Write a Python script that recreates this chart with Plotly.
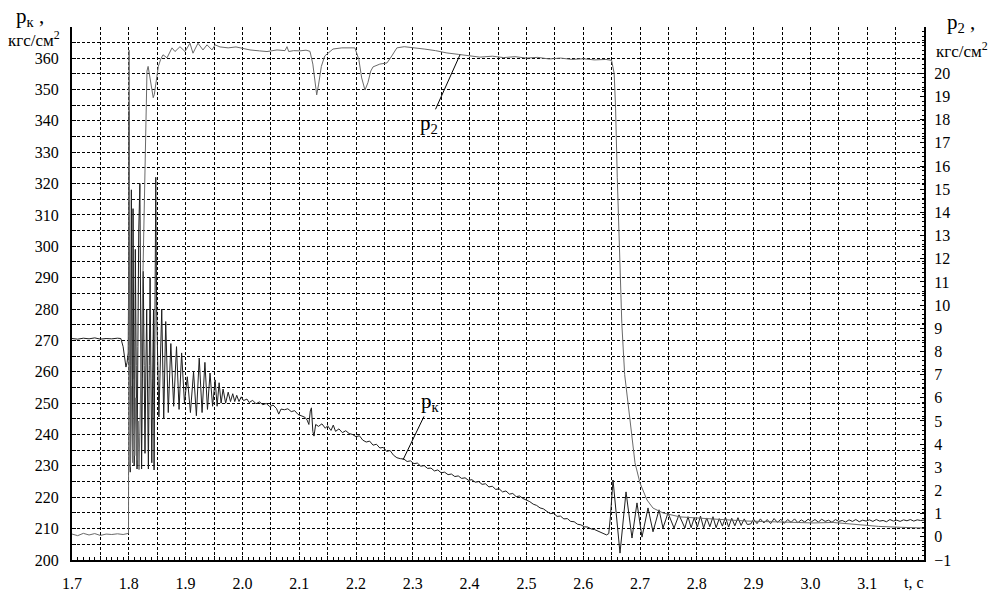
import numpy as np
import plotly.graph_objects as go

# ---------------- data ----------------
# p_k : chamber pressure, left axis (kgf/cm2)
t_pk = [1.700, 1.710, 1.720, 1.730, 1.740, 1.750, 1.760, 1.770, 1.780, 1.786, 1.790, 1.793, 1.795, 1.797, 1.799,
        1.8000, 1.8005, 1.8015, 1.8025, 1.8035, 1.8045, 1.8055, 1.8065, 1.8075, 1.8085, 1.8095, 1.8105, 1.8115,
        1.8130, 1.8145, 1.8160, 1.8175, 1.8195, 1.8210, 1.8225, 1.8240, 1.8255, 1.8270, 1.8285, 1.8300, 1.8315,
        1.8330, 1.8345, 1.8360, 1.8375, 1.8390, 1.8405, 1.8420, 1.8435, 1.8445, 1.8460, 1.8475, 1.8490, 1.8530,
        1.8580, 1.8615, 1.8650, 1.8695, 1.8740, 1.8790, 1.8840, 1.8885, 1.8930, 1.8980, 1.9030, 1.9085, 1.9140,
        1.9190, 1.9240, 1.9290, 1.9340, 1.9385, 1.9430, 1.9475, 1.9520, 1.9555, 1.9590, 1.9625, 1.9660, 1.9705,
        1.9750, 1.9790, 1.9830, 1.9865, 1.9900, 1.9940, 1.9980,
        2.002, 2.008, 2.012, 2.018, 2.024, 2.030, 2.036, 2.042, 2.048, 2.054, 2.060, 2.064, 2.068, 2.074, 2.080,
        2.086, 2.092, 2.098, 2.104, 2.110, 2.114, 2.117, 2.1195, 2.1215, 2.124, 2.126, 2.129, 2.134, 2.140, 2.146,
        2.150, 2.156, 2.160, 2.164, 2.170, 2.176, 2.182, 2.188, 2.194, 2.200, 2.206, 2.212, 2.218, 2.224, 2.230,
        2.236, 2.242, 2.248, 2.254, 2.260, 2.266, 2.272, 2.278, 2.284, 2.290, 2.296, 2.302, 2.308, 2.314, 2.320,
        2.326, 2.332, 2.338, 2.344, 2.350, 2.356, 2.362, 2.368, 2.374, 2.380, 2.386, 2.392, 2.398, 2.404, 2.410,
        2.416, 2.422, 2.428, 2.434, 2.440, 2.446, 2.452, 2.458, 2.464, 2.470, 2.476, 2.482, 2.488, 2.494, 2.500,
        2.506, 2.512, 2.518, 2.524, 2.530, 2.536, 2.542, 2.548, 2.554, 2.560, 2.566, 2.572, 2.578, 2.584, 2.590,
        2.596, 2.602, 2.608, 2.614, 2.620, 2.626, 2.632, 2.637, 2.641, 2.645, 2.648,
        2.6525, 2.6648, 2.6754, 2.6859, 2.6947, 2.7035, 2.7141, 2.7229, 2.7335, 2.7405, 2.7493, 2.7599, 2.7687,
        2.7790, 2.7845, 2.7900, 2.7955, 2.8010, 2.8065, 2.8120, 2.8175, 2.8230, 2.8285, 2.8340, 2.8395, 2.8450,
        2.8505, 2.8560, 2.8615, 2.8670, 2.8725, 2.8780, 2.8835, 2.8890,
        2.895, 2.900, 2.906, 2.912, 2.918, 2.924, 2.930, 2.936, 2.942, 2.948, 2.954, 2.960, 2.966, 2.972, 2.978,
        2.984, 2.990, 2.996, 3.002, 3.008, 3.014, 3.020, 3.026, 3.032, 3.038, 3.044, 3.050, 3.056, 3.062, 3.068,
        3.074, 3.080, 3.086, 3.092, 3.098, 3.104, 3.110, 3.116, 3.122, 3.128, 3.134, 3.140, 3.146, 3.152, 3.158,
        3.164, 3.170, 3.176, 3.182, 3.188, 3.194, 3.200]
v_pk = [270.6, 270.4, 270.7, 270.5, 270.8, 270.4, 270.6, 270.5, 270.7, 270.6, 268.0, 263.0, 261.5, 263.0, 266.0,
        300.0, 343.0, 290.0, 228.0, 262.0, 318.0, 270.0, 232.0, 312.0, 276.0, 230.0, 258.0, 299.0,
        262.0, 229.0, 268.0, 305.0, 320.0, 270.0, 229.0, 258.0, 292.0, 262.0, 234.0, 260.0, 280.0,
        255.0, 229.0, 262.0, 290.0, 258.0, 231.0, 258.0, 280.0, 228.7, 270.0, 322.0, 280.0, 245.6,
        280.0, 245.0, 276.0, 247.0, 269.0, 249.0, 268.0, 248.0, 266.0, 250.0, 258.4, 247.0, 260.0,
        246.0, 264.4, 247.0, 263.0, 248.0, 259.6, 249.0, 257.4, 249.0, 256.5, 250.0, 254.5, 250.0,
        253.5, 250.5, 253.0, 250.5, 252.5, 250.5, 252.0,
        250.8, 251.3, 250.2, 250.9, 249.8, 250.4, 249.5, 249.9, 248.9, 249.4, 248.3, 246.5, 248.1, 247.9, 248.2,
        247.3, 247.6, 246.4, 246.0, 245.5, 244.6, 243.2, 247.5, 248.5, 241.0, 239.5, 243.2, 242.6, 243.4, 242.0,
        242.8, 241.3, 243.0, 241.0, 241.8, 240.6, 241.2, 240.3, 240.0, 239.3, 239.6, 238.2, 237.6, 237.9, 236.6,
        236.9, 235.7, 235.9, 234.6, 234.9, 233.4, 232.6, 232.3, 232.2, 231.4, 231.6, 230.7, 230.9, 229.9, 230.1,
        229.2, 229.3, 228.4, 228.7, 227.8, 228.0, 227.2, 227.4, 226.6, 226.8, 226.0, 226.2, 225.4, 225.6, 224.8,
        225.0, 224.1, 224.3, 223.3, 223.5, 222.5, 222.7, 221.7, 222.0, 221.0, 221.2, 220.2, 220.4, 219.6, 219.2,
        218.6, 217.8, 217.4, 216.6, 216.3, 215.5, 214.8, 214.9, 213.9, 214.0, 213.1, 213.2, 212.3, 212.2, 211.4,
        211.2, 210.6, 210.5, 209.9, 209.7, 209.2, 208.9, 208.5, 208.0, 208.4, 214.0,
        225.5, 202.2, 221.7, 207.0, 218.2, 207.3, 216.6, 209.0, 216.0, 210.2, 215.0, 210.2, 214.4,
        210.2, 213.8, 210.3, 213.5, 210.5, 214.0, 210.2, 213.4, 210.6, 213.8, 210.3, 213.2, 210.8,
        213.6, 210.5, 213.3, 210.9, 213.5, 211.0, 213.1, 211.3,
        211.5, 213.0, 211.6, 213.1, 211.8, 212.9, 211.6, 213.2, 212.0, 213.0, 211.7, 212.9, 212.0, 213.1, 211.9,
        212.8, 212.1, 213.0, 212.2, 212.9, 212.1, 213.0, 212.3, 212.7, 212.0, 212.9, 212.3, 212.6, 212.1, 212.8,
        212.3, 212.9, 212.2, 212.7, 212.4, 212.8, 212.3, 212.9, 212.4, 212.6, 212.2, 212.9, 212.4, 212.7, 212.3,
        212.8, 212.5, 212.9, 212.4, 212.8, 212.6, 212.7]

# p_2 : right axis (kgf/cm2)
t_p2 = [1.700, 1.710, 1.720, 1.730, 1.740, 1.750, 1.760, 1.770, 1.780, 1.790, 1.7995, 1.8005, 1.8015, 1.8025,
        1.8045, 1.8065, 1.8085, 1.8105, 1.8125, 1.8145, 1.8165, 1.818, 1.825, 1.830, 1.832, 1.834, 1.837, 1.841,
        1.843, 1.845, 1.848, 1.852, 1.856, 1.8602, 1.8673, 1.8761, 1.8813, 1.8901, 1.8989, 1.9077, 1.913, 1.9218,
        1.9306, 1.9377, 1.9465, 1.9518, 1.9606, 1.975, 1.9887, 2.000, 2.0134, 2.030, 2.0433, 2.0609, 2.075, 2.0785,
        2.0815, 2.090, 2.1014, 2.112, 2.119, 2.124, 2.128, 2.1308, 2.134, 2.139, 2.145, 2.1507, 2.1595, 2.175,
        2.190, 2.198, 2.205, 2.210, 2.2158, 2.221, 2.226, 2.230, 2.242, 2.2546, 2.263, 2.272, 2.285, 2.300, 2.320,
        2.340, 2.360, 2.380, 2.400, 2.418, 2.440, 2.460, 2.480, 2.500, 2.520, 2.540, 2.560, 2.580, 2.600, 2.620,
        2.640, 2.650, 2.6545, 2.657, 2.660, 2.664, 2.668, 2.673, 2.678, 2.6824, 2.6912, 2.700, 2.7123, 2.7229,
        2.7405, 2.7704, 2.8285, 2.8884, 2.9465, 3.0046, 3.040, 3.080, 3.120, 3.160, 3.200]
v_p2 = [0.12, 0.05, 0.15, 0.08, 0.14, 0.06, 0.12, 0.10, 0.13, 0.10, 0.15, 21.0, 13.0, 3.0,
        6.5, 3.2, 6.8, 3.5, 6.0, 3.3, 5.0, 2.9, 11.5, 18.0, 20.1, 20.3, 19.8, 19.1,
        18.95, 19.1, 19.7, 20.3, 20.6, 20.8, 20.67, 21.1, 20.94, 21.15, 20.94, 21.3, 20.87, 21.3,
        21.01, 21.23, 21.01, 21.23, 21.14, 21.1, 21.14, 21.08, 21.01, 20.97, 20.94, 21.01, 20.98, 21.15,
        20.94, 20.98, 20.97, 21.0, 20.95, 20.4, 19.5, 19.07, 19.5, 20.3, 20.75, 20.87, 21.05, 21.1,
        21.12, 21.1, 20.6, 19.8, 19.28, 19.6, 20.1, 20.28, 20.4, 20.45, 20.75, 21.1, 21.15, 21.12, 21.05,
        20.98, 20.88, 20.82, 20.76, 20.7, 20.74, 20.68, 20.72, 20.66, 20.69, 20.62, 20.66, 20.6, 20.63, 20.58,
        20.6, 20.56, 20.0, 18.5, 15.5, 12.0, 9.2, 7.0, 5.8, 5.04, 3.19, 2.32, 1.59, 1.24,
        1.03, 0.86, 0.77, 0.68, 0.64, 0.6, 0.62, 0.52, 0.45, 0.41, 0.38]

# axis ticks / labels
x_tickvals = [round(1.70 + 0.1 * i, 1) for i in range(15)]
x_ticktext = [f"{v:.1f}" for v in x_tickvals]
yl_tickvals = list(range(200, 361, 10))
yr_tickvals = list(range(-1, 21))

# annotation anchor points (taken from the curves)
pk_label_t, pk_label_v = 2.2827, 231.9
p2_label_t, p2_label_v = 2.3831, 20.8

FONT = "Liberation Serif"
GRID = dict(gridcolor="black", gridwidth=1, griddash="3px,2px")
TICKFONT = dict(family=FONT, size=16, color="black")
X_RANGE = [1.7, 3.2]

fig = go.Figure()
fig.add_trace(go.Scatter(x=t_p2, y=v_p2, xaxis="x2", yaxis="y2", mode="lines",
                         line=dict(color="#6a6a6a", width=1), name="p2", showlegend=False))
fig.add_trace(go.Scatter(x=t_pk, y=v_pk, mode="lines",
                         line=dict(color="#1e1e1e", width=1), name="pk", showlegend=False))

fig.update_layout(
    width=994, height=597,
    margin=dict(l=72, r=70, t=27, b=37, autoexpand=False),
    paper_bgcolor="white", plot_bgcolor="white",
    font=dict(family=FONT, size=16, color="black"),
    xaxis=dict(range=X_RANGE, tickmode="array", tickvals=x_tickvals, ticktext=x_ticktext,
               showline=True, linecolor="black", linewidth=2, ticks="inside", ticklen=4,
               tickcolor="black", showgrid=True, zeroline=False, ticklabelstandoff=8,
               tickfont=TICKFONT, automargin=False,
               minor=dict(tick0=1.75, dtick=0.1, ticks="inside", ticklen=4, tickcolor="black",
                          showgrid=True, **GRID),
               **GRID),
    # companion axis carrying the fine 0.01 s tick marks
    xaxis2=dict(range=X_RANGE, overlaying="x", anchor="y", side="bottom", dtick=0.01, tick0=1.7,
                ticks="inside", ticklen=3, tickcolor="black", showticklabels=False,
                showgrid=False, showline=False, zeroline=False, automargin=False),
    yaxis=dict(range=[200, 369.9], tickmode="array", tickvals=yl_tickvals,
               showline=True, linecolor="black", linewidth=2, ticks="inside", ticklen=4,
               tickcolor="black", showgrid=True, zeroline=False, ticklabelstandoff=8,
               tickfont=TICKFONT, automargin=False,
               minor=dict(tick0=205, dtick=10, ticks="inside", ticklen=4, tickcolor="black",
                          showgrid=True, **GRID),
               **GRID),
    yaxis2=dict(range=[-1, 22], overlaying="y", side="right", anchor="x", tickmode="array",
                tickvals=yr_tickvals, showline=True, linecolor="black", linewidth=2,
                ticks="inside", ticklen=4, tickcolor="black", showgrid=False, zeroline=False,
                ticklabelstandoff=5, tickfont=TICKFONT, automargin=False,
                minor=dict(tick0=-1, dtick=0.2, ticks="inside", ticklen=2, tickcolor="black",
                           showgrid=False)),
)

ann = [
    dict(x=pk_label_t, y=pk_label_v, xref="x", yref="y", text="p<sub>к</sub>",
         showarrow=True, arrowhead=0, arrowwidth=1, arrowcolor="black", ax=28, ay=-58,
         font=dict(family=FONT, size=21)),
    dict(x=p2_label_t, y=p2_label_v, xref="x", yref="y2", text="p<sub>2</sub>",
         showarrow=True, arrowhead=0, arrowwidth=1, arrowcolor="black", ax=-31, ay=69,
         font=dict(family=FONT, size=21)),
    dict(x=30, y=597 - 17, xref="paper", yref="paper", text="p<sub>к</sub> ,", showarrow=False,
         font=dict(family=FONT, size=21)),
    dict(x=34, y=597 - 39, xref="paper", yref="paper", text="кгс/см<sup>2</sup>", showarrow=False,
         font=dict(family=FONT, size=17)),
    dict(x=961, y=597 - 23, xref="paper", yref="paper", text="p<sub>2</sub> ,", showarrow=False,
         font=dict(family=FONT, size=21)),
    dict(x=962, y=597 - 50, xref="paper", yref="paper", text="кгс/см<sup>2</sup>", showarrow=False,
         font=dict(family=FONT, size=17)),
    dict(x=914, y=597 - 582, xref="paper", yref="paper", text="t, c", showarrow=False,
         font=dict(family=FONT, size=16)),
]
# convert pixel positions of the paper annotations into paper fractions
pw, ph = 994 - 72 - 70, 597 - 27 - 37
for a in ann:
    if a["xref"] == "paper":
        a["x"] = (a["x"] - 72) / pw
        a["y"] = (a["y"] - 37) / ph
        a["xanchor"] = "center"
        a["yanchor"] = "middle"
fig.update_layout(annotations=ann)

fig.write_html("out.html")
